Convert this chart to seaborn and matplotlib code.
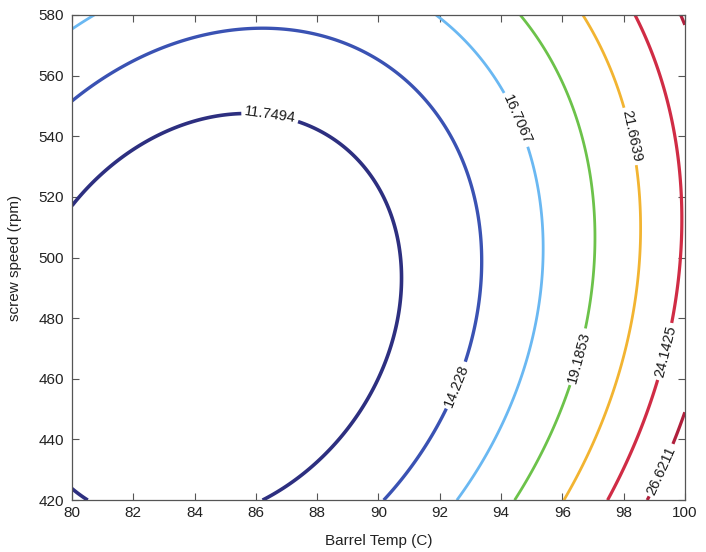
import numpy as np
import matplotlib
matplotlib.use("Agg")
import matplotlib.pyplot as plt
import seaborn as sns

# ---- data (contour levels and points on each contour) ----
levels = [11.7494, 14.2280, 16.7067, 19.1853, 21.6639, 24.1425, 26.6211]
level_labels = ["11.7494", "14.228", "16.7067", "19.1853", "21.6639", "24.1425", "26.6211"]
x_ticks = [80, 82, 84, 86, 88, 90, 92, 94, 96, 98, 100]
y_ticks = [420, 440, 460, 480, 500, 520, 540, 560, 580]

c1_x = [80.04, 80.91, 82.0, 83.09, 84.18, 85.54, 87.44, 89.2, 90.7, 90.76, 90.70, 90.38, 89.72, 89.07, 88.52, 87.44, 86.24, 80.0, 80.2, 80.42]
c1_y = [517.9, 527.8, 536.6, 542.1, 545.4, 547.6, 544.3, 533.0, 497.0, 495.9, 484.9, 462.9, 451.9, 444.2, 440.9, 429.9, 420.0, 423.5, 421.8, 420.0]
c2_x = [80.04, 80.91, 82.0, 83.09, 84.18, 85.26, 86.35, 87.44, 88.53, 89.2, 90.70, 92.33, 93.2, 93.4, 93.09, 92.82, 92.22, 91.25, 90.21]
c2_y = [552.0, 556.3, 563.0, 569.5, 573.4, 575.3, 576.2, 575.6, 574.0, 569.0, 560.8, 541.0, 519.0, 494.0, 479.4, 466.2, 451.9, 435.4, 420.0]
c3_x = [80.0, 80.8, 92.0, 92.88, 93.86, 94.84, 95.32, 95.32, 95.16, 94.72, 93.96, 92.66]
c3_y = [576.0, 580.0, 580.0, 570.7, 556.3, 536.6, 513.5, 494.0, 479.4, 459.6, 440.9, 420.0]
c4_x = [94.62, 95.6, 96.47, 96.9, 97.01, 96.85, 96.25, 95.38, 94.4]
c4_y = [580.0, 565.2, 541.0, 519.0, 494.0, 479.4, 457.4, 438.7, 420.0]
c5_x = [96.68, 97.55, 98.21, 98.42, 98.42, 98.21, 97.55, 96.03]
c5_y = [580.0, 562.9, 541.0, 519.0, 494.0, 473.9, 449.7, 420.0]
c6_x = [98.42, 99.18, 99.73, 99.94, 99.89, 99.73, 99.08, 97.45]
c6_y = [580.0, 557.5, 535.5, 513.5, 495.9, 479.4, 454.1, 420.0]
c7_x = [99.87, 100.0, 99.95, 99.4, 98.75]
c7_y = [580.0, 577.8, 448.6, 436.5, 420.0]

line_colors = ["#2d2f80", "#3a52b3", "#6ab8f2", "#6cc24a", "#f2b431", "#d02c45", "#b0203c"]
line_widths = [2.6, 2.4, 2.0, 2.0, 2.0, 2.3, 2.3]
label_pos = [(86.45, 546.0), (92.5, 458.0), (94.4, 545.0), (96.6, 467.0),
             (98.25, 540.0), (99.35, 469.0), (99.2, 430.0)]

# ---- fit a quadratic response surface through the read contour points ----
pts_x = np.concatenate([c1_x, c2_x, c3_x, c4_x, c5_x, c6_x, c7_x])
pts_y = np.concatenate([c1_y, c2_y, c3_y, c4_y, c5_y, c6_y, c7_y])
pts_z = np.concatenate([np.full(len(c), lv) for c, lv in
                        zip([c1_x, c2_x, c3_x, c4_x, c5_x, c6_x, c7_x], levels)])

def design(x, y):
    u = (np.asarray(x) - 90.0) / 10.0
    v = (np.asarray(y) - 500.0) / 80.0
    return np.stack([np.ones_like(u), u, v, u * u, v * v, u * v], axis=-1)

coef, *_ = np.linalg.lstsq(design(pts_x, pts_y), pts_z, rcond=None)

gx = np.linspace(80, 100, 241)
gy = np.linspace(420, 580, 241)
GX, GY = np.meshgrid(gx, gy)
GZ = design(GX, GY) @ coef

# ---- plot ----
sns.set_theme(style="ticks")
plt.rcParams["font.family"] = ["Liberation Sans", "DejaVu Sans"]

fig = plt.figure(figsize=(7.06, 5.52), dpi=100)
ax = fig.add_axes([0.102, 0.094, 0.868, 0.879])

cs = ax.contour(GX, GY, GZ, levels=levels, colors=line_colors, linewidths=line_widths)
fmt = {lv: lab for lv, lab in zip(cs.levels, level_labels)}
ax.clabel(cs, fmt=fmt, manual=label_pos, inline=True, inline_spacing=3,
          fontsize=10.5, colors="#1a1a1a")

ax.set_xlim(80, 100)
ax.set_ylim(420, 580)
ax.set_xticks(x_ticks)
ax.set_yticks(y_ticks)
ax.tick_params(direction="in", top=True, right=True, length=5, width=0.8,
               labelsize=11, colors="#555555", labelcolor="#222222")
ax.tick_params(axis="y", pad=6)
ax.tick_params(axis="x", pad=4)
for s in ax.spines.values():
    s.set_color("#555555")
    s.set_linewidth(0.9)
ax.set_xlabel("Barrel Temp (C)", fontsize=11, color="#222222", labelpad=10)
ax.set_ylabel("screw speed (rpm)", fontsize=11, color="#222222", labelpad=12)

fig.savefig("out.png", dpi=100)
